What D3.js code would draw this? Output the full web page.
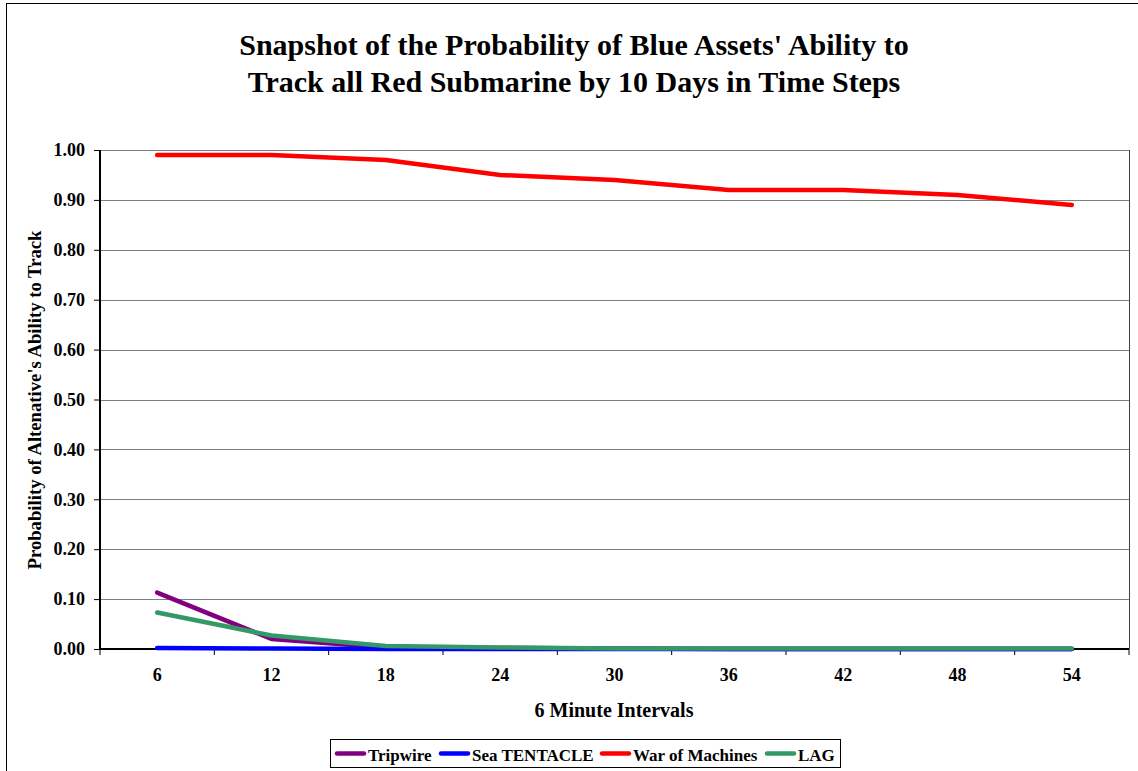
<!DOCTYPE html>
<html><head><meta charset="utf-8">
<script src="https://cdn.jsdelivr.net/npm/d3@7"></script>
<style>html,body{margin:0;padding:0;background:#fff;}svg{display:block;}
svg text{font-family:"Liberation Serif","Times New Roman",Times,serif;font-weight:bold;fill:#000;}
</style>
</head><body>
<script>
const categories = ["6","12","18","24","30","36","42","48","54"];
const tripwire = [0.113,0.020,0.003,0.002,0.001,0.000,0.000,0.000,0.000];
const seaTentacle = [0.002,0.001,0.000,0.000,0.000,0.000,0.000,0.000,0.000];
const warOfMachines = [0.99,0.99,0.98,0.95,0.94,0.92,0.92,0.91,0.89];
const lag = [0.073,0.027,0.006,0.003,0.001,0.001,0.001,0.001,0.001];
const yTicks = [0,0.1,0.2,0.3,0.4,0.5,0.6,0.7,0.8,0.9,1.0];
const seriesNames = ["Tripwire","Sea TENTACLE","War of Machines","LAG"];
const seriesColors = ["#800080","#0000FF","#FF0000","#339966"];
const seriesValues = [tripwire, seaTentacle, warOfMachines, lag];

const W=1138,H=771;
const svg=d3.select("body").append("svg").attr("width",W).attr("height",H);
svg.append("rect").attr("x",6.5).attr("y",3.5).attr("width",1140).attr("height",780).attr("fill","#fff").attr("stroke","#000").attr("stroke-width",1);

const m={l:100,r:1129,t:150,b:649};
const x=d3.scaleBand().domain(categories).range([m.l,m.r]);
const y=d3.scaleLinear().domain([0,1]).range([m.b,m.t]);

// title
const title=svg.append("text").attr("text-anchor","middle").style("font-size","30px");
title.append("tspan").attr("x",574).attr("y",55).text("Snapshot of the Probability of Blue Assets' Ability to");
title.append("tspan").attr("x",574).attr("y",92).text("Track all Red Submarine by 10 Days in Time Steps");

// gridlines
svg.append("g").selectAll("line").data(yTicks.filter(d=>d>0)).join("line")
  .attr("x1",m.l).attr("x2",m.r).attr("y1",d=>Math.round(y(d))+0.5).attr("y2",d=>Math.round(y(d))+0.5)
  .attr("stroke","#808080").attr("stroke-width",1);
svg.append("line").attr("x1",m.r+0.5).attr("x2",m.r+0.5).attr("y1",m.t).attr("y2",m.b).attr("stroke","#404040");

// y axis
const yAxis=svg.append("g").attr("transform",`translate(${m.l},0)`)
  .call(d3.axisLeft(y).tickValues(yTicks).tickFormat(d3.format(".2f")).tickSize(6).tickPadding(9));
yAxis.select(".domain").attr("stroke","#000").attr("stroke-width",2).attr("d",`M0,${m.t}V${m.b}`);
yAxis.selectAll("text").style("font-size","18px");

// x axis
const xAxis=svg.append("g").attr("transform",`translate(0,${m.b})`)
  .call(d3.axisBottom(x).tickSize(0).tickPadding(19));
xAxis.select(".domain").attr("stroke","#000").attr("stroke-width",2).attr("d",`M${m.l},0H${m.r}`);
xAxis.selectAll("text").style("font-size","18px");
const bounds=categories.map(c=>x(c)).concat([m.r]);
svg.append("g").selectAll("line").data(bounds).join("line")
  .attr("x1",d=>d).attr("x2",d=>d).attr("y1",m.b).attr("y2",m.b+6).attr("stroke","#000");

// axis titles
svg.append("text").attr("x",614).attr("y",717).attr("text-anchor","middle").style("font-size","20px").text("6 Minute Intervals");
svg.append("text").attr("transform","translate(41,400) rotate(-90)").attr("text-anchor","middle").style("font-size","18.7px").text("Probability of Altenative's Ability to Track");

// lines
const line=d3.line().x((d,i)=>x(categories[i])+x.bandwidth()/2).y(d=>y(d));
svg.append("g").selectAll("path").data(seriesValues).join("path")
  .attr("d",d=>line(d)).attr("fill","none").attr("stroke",(d,i)=>seriesColors[i])
  .attr("stroke-width",4.5).attr("stroke-linejoin","round").attr("stroke-linecap","round");

// legend
const lg=svg.append("g");
lg.append("rect").attr("x",330.5).attr("y",739.5).attr("width",510).attr("height",28).attr("fill","#fff").attr("stroke","#000");
const itemX=[335,439,600,765];
seriesNames.forEach((n,i)=>{
  lg.append("line").attr("x1",itemX[i]+2).attr("x2",itemX[i]+29).attr("y1",753.5).attr("y2",753.5)
    .attr("stroke",seriesColors[i]).attr("stroke-width",4.5).attr("stroke-linecap","round");
  lg.append("text").attr("x",itemX[i]+33).attr("y",761).style("font-size","17px").text(n);
});
</script>
</body></html>
